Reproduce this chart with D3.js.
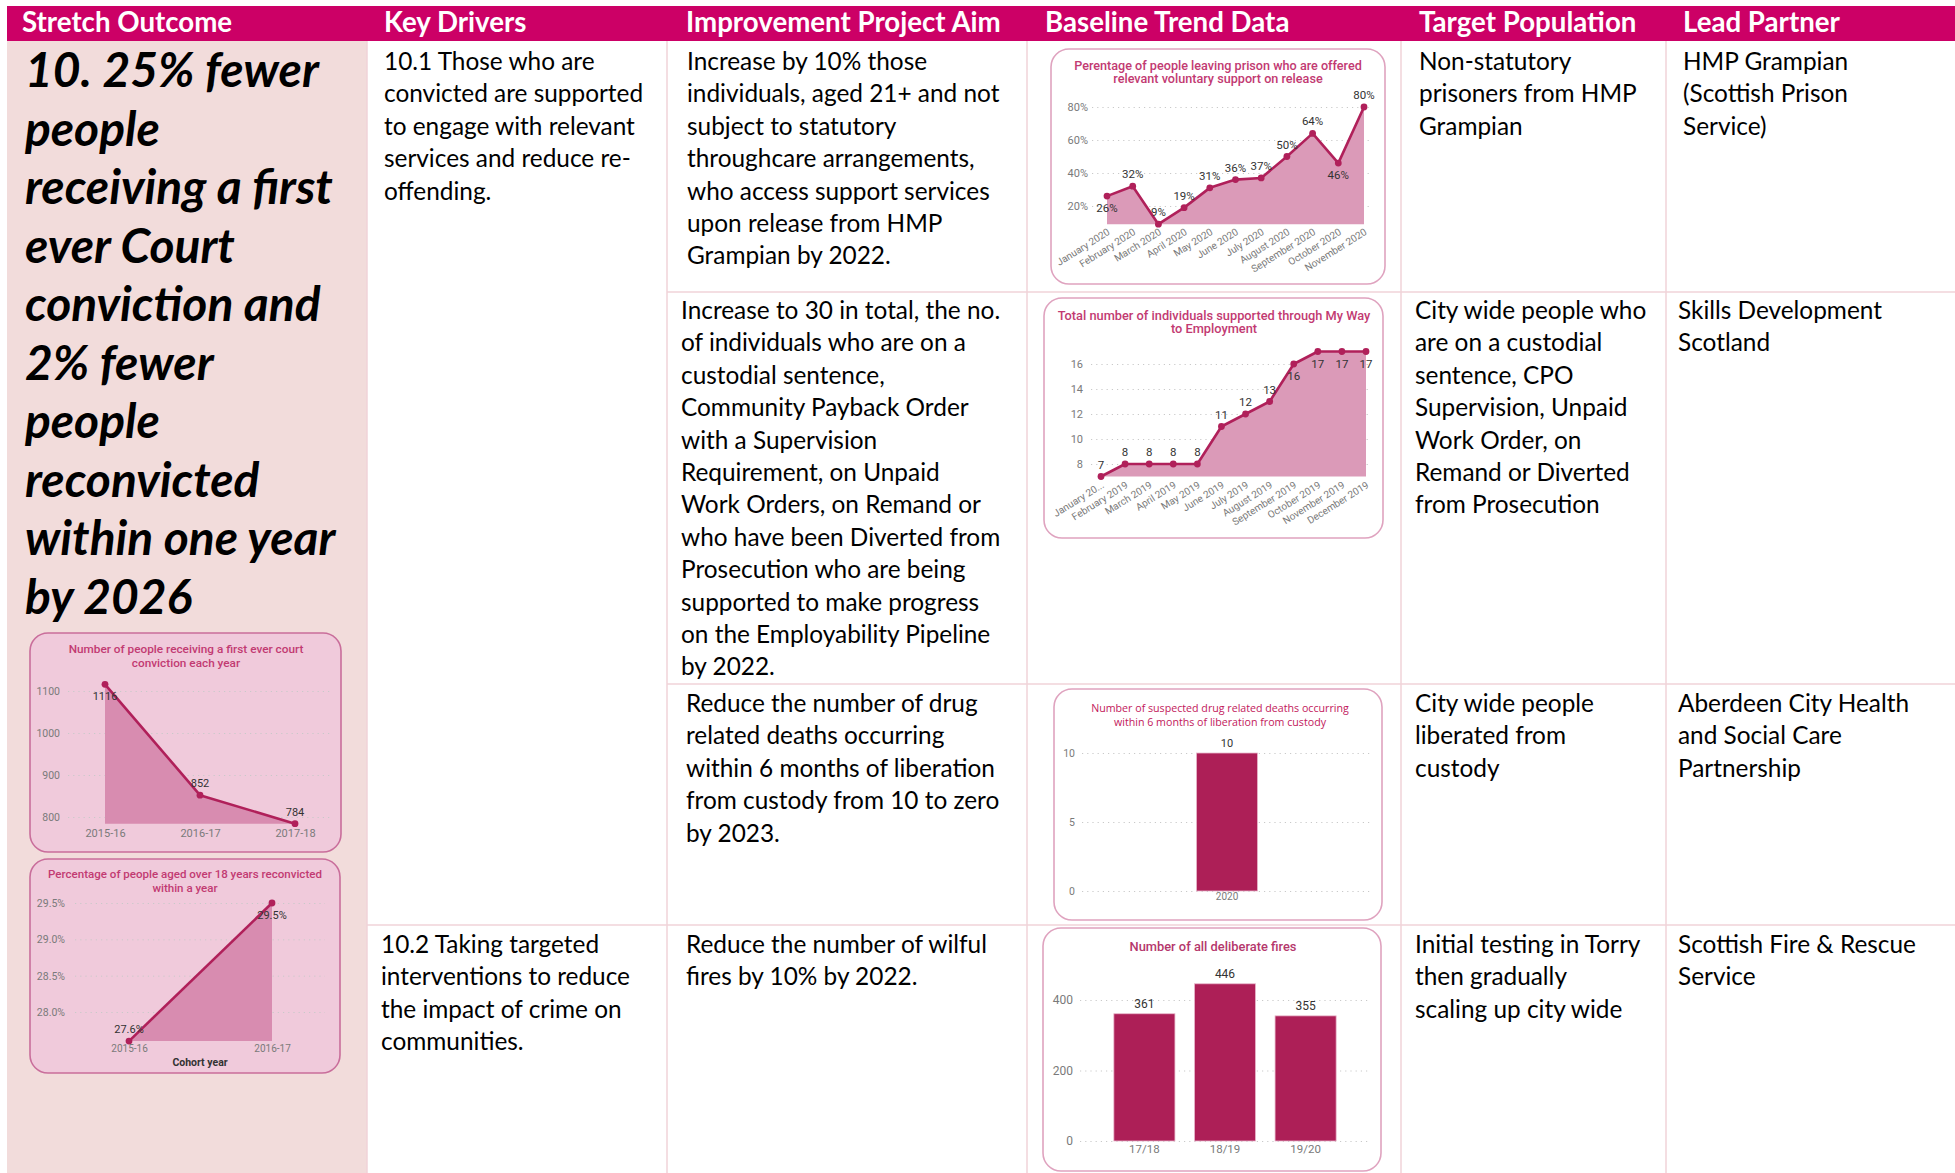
<!DOCTYPE html>
<html>
<head>
<meta charset="utf-8">
<script src="https://cdn.jsdelivr.net/npm/d3@7"></script>
<style>
  body { margin: 0; background: #fff; }
  svg { display: block; }
</style>
</head>
<body>
<svg id="chart"></svg>
<script>
const W = 1955, H = 1173;

// ---- table text ----
const headers = ['Stretch Outcome', 'Key Drivers', 'Improvement Project Aim', 'Baseline Trend Data', 'Target Population', 'Lead Partner'];

const outcomeLines = ['10. 25% fewer', 'people', 'receiving a first', 'ever Court', 'conviction and',
  '2% fewer', 'people', 'reconvicted', 'within one year', 'by 2026'];

const driverLines = [
  ['10.1 Those who are', 'convicted are supported', 'to engage with relevant', 'services and reduce re-', 'offending.'],
  ['10.2 Taking targeted', 'interventions to reduce', 'the impact of crime on', 'communities.']
];

const aimLines = [
  ['Increase by 10% those', 'individuals, aged 21+ and not', 'subject to statutory', 'throughcare arrangements,',
   'who access support services', 'upon release from HMP', 'Grampian by 2022.'],
  ['Increase to 30 in total, the no.', 'of individuals who are on a', 'custodial sentence,', 'Community Payback Order',
   'with a Supervision', 'Requirement, on Unpaid', 'Work Orders, on Remand or', 'who have been Diverted from',
   'Prosecution who are being', 'supported to make progress', 'on the Employability Pipeline', 'by 2022.'],
  ['Reduce the number of drug', 'related deaths occurring', 'within 6 months of liberation', 'from custody from 10 to zero', 'by 2023.'],
  ['Reduce the number of wilful', 'fires by 10% by 2022.']
];

const targetLines = [
  ['Non-statutory', 'prisoners from HMP', 'Grampian'],
  ['City wide people who', 'are on a custodial', 'sentence, CPO', 'Supervision, Unpaid', 'Work Order, on', 'Remand or Diverted', 'from Prosecution'],
  ['City wide people', 'liberated from', 'custody'],
  ['Initial testing in Torry', 'then gradually', 'scaling up city wide']
];

const partnerLines = [
  ['HMP Grampian', '(Scottish Prison', 'Service)'],
  ['Skills Development', 'Scotland'],
  ['Aberdeen City Health', 'and Social Care', 'Partnership'],
  ['Scottish Fire & Rescue', 'Service']
];

// ---- chart data ----
const prisonMonths = ['January 2020', 'February 2020', 'March 2020', 'April 2020', 'May 2020', 'June 2020',
  'July 2020', 'August 2020', 'September 2020', 'October 2020', 'November 2020'];
const prisonPct = [26, 32, 9, 19, 31, 36, 37, 50, 64, 46, 80];
const prisonTicks = [20, 40, 60, 80];

const myWayMonths = ['January 20...', 'February 2019', 'March 2019', 'April 2019', 'May 2019', 'June 2019',
  'July 2019', 'August 2019', 'September 2019', 'October 2019', 'November 2019', 'December 2019'];
const myWayCounts = [7, 8, 8, 8, 8, 11, 12, 13, 16, 17, 17, 17];
const myWayTicks = [8, 10, 12, 14, 16];

const drugYears = ['2020'];
const drugDeaths = [10];
const drugTicks = [0, 5, 10];

const fireYears = ['17/18', '18/19', '19/20'];
const fireCounts = [361, 446, 355];
const fireTicks = [0, 200, 400];

const courtYears = ['2015-16', '2016-17', '2017-18'];
const courtCounts = [1116, 852, 784];
const courtTicks = [800, 900, 1000, 1100];

const reconYears = ['2015-16', '2016-17'];
const reconPct = [27.6, 29.5];
const reconTicks = [28.0, 28.5, 29.0, 29.5];

// ---- layout ----
const FONT = 'Lato, "Open Sans", sans-serif';
const DIN = 'Roboto, "Open Sans", sans-serif';
const colX = [7, 367, 667, 1027, 1401, 1666, W];
const rowY = [41, 292, 684, 925, H];
const headX = [22, 384, 686, 1045, 1419, 1683];
const lineColor = '#F0D3D8';

const svg = d3.select('#chart').attr('width', W).attr('height', H);

function measure(text, family, weight, style) {
  const t = svg.append('text').attr('font-family', family).attr('font-size', 100)
    .attr('font-weight', weight || 'normal').attr('font-style', style || 'normal').text(text);
  const w = t.node().getComputedTextLength();
  t.remove();
  return w;
}
function fitSize(text, target, family, weight, style) {
  return 100 * target / measure(text, family, weight, style);
}

// background + header
svg.append('rect').attr('x', colX[0]).attr('y', rowY[0]).attr('width', colX[1] - colX[0]).attr('height', H - rowY[0])
  .attr('fill', '#F2DCDB');
svg.append('rect').attr('x', colX[0]).attr('y', 6).attr('width', W - colX[0]).attr('height', 35).attr('fill', '#CC0066');

const headSize = fitSize('Improvement Project Aim', 315, FONT, 'bold');
svg.selectAll('.head').data(headers).join('text')
  .attr('class', 'head')
  .attr('x', (d, i) => headX[i]).attr('y', 32)
  .attr('font-family', FONT).attr('font-weight', 'bold').attr('font-size', headSize)
  .attr('fill', '#fff').text(d => d);

// grid lines
const grid = svg.append('g').attr('stroke', lineColor).attr('stroke-width', 1.5);
[colX[1], colX[2], colX[3], colX[4], colX[5]].forEach(x =>
  grid.append('line').attr('x1', x).attr('x2', x).attr('y1', rowY[0]).attr('y2', H));
[rowY[1], rowY[2]].forEach(y =>
  grid.append('line').attr('x1', colX[2]).attr('x2', W).attr('y1', y).attr('y2', y));
grid.append('line').attr('x1', colX[1]).attr('x2', W).attr('y1', rowY[3]).attr('y2', rowY[3]);

// body text
const bodySize = fitSize('who access support services', 303, FONT);
const bodyLead = 32.4;
function block(lines, x, y) {
  svg.append('text').attr('font-family', FONT).attr('font-size', bodySize).attr('fill', '#000')
    .selectAll('tspan').data(lines).join('tspan')
    .attr('x', x).attr('y', (d, i) => y + i * bodyLead).text(d => d);
}
block(driverLines[0], 384, 70);
block(driverLines[1], 381, 953);
const rowBase = [70, 319, 712, 953];
const aimX = [687, 681, 686, 686];
aimLines.forEach((l, i) => block(l, aimX[i], rowBase[i]));
const targetX = [1419, 1415, 1415, 1415];
targetLines.forEach((l, i) => block(l, targetX[i], rowBase[i]));
const partnerX = [1683, 1678, 1678, 1678];
partnerLines.forEach((l, i) => block(l, partnerX[i], rowBase[i]));

// big outcome statement
const outSize = fitSize('receiving a first', 308, FONT, 'bold', 'italic');
svg.append('text').attr('font-family', FONT).attr('font-size', outSize).attr('font-weight', 'bold')
  .attr('font-style', 'italic').attr('fill', '#000')
  .selectAll('tspan').data(outcomeLines).join('tspan')
  .attr('x', 25).attr('y', (d, i) => 87 + i * 58.5).text(d => d);

// ---- mini charts ----
function frame(g, c) {
  g.append('rect').attr('x', c.box[0]).attr('y', c.box[1])
    .attr('width', c.box[2] - c.box[0]).attr('height', c.box[3] - c.box[1])
    .attr('rx', 18).attr('fill', c.bg).attr('stroke', c.border).attr('stroke-width', 1.6);
  const fam = c.titleFont || DIN;
  const wt = c.titleWeight || 500;
  const size = fitSize(c.title[0], c.titleW, fam, wt);
  g.append('text').attr('font-family', fam).attr('font-weight', wt).attr('font-size', size)
    .attr('fill', c.titleColor).attr('text-anchor', 'middle')
    .selectAll('tspan').data(c.title).join('tspan')
    .attr('x', c.titleX).attr('y', (d, i) => c.titleY + i * c.titleLead).text(d => d);
}

function yAxes(g, c, y) {
  g.append('g').attr('transform', `translate(${c.grid[0]},0)`)
    .call(d3.axisLeft(y).tickValues(c.ticks).tickSize(-(c.grid[1] - c.grid[0])).tickFormat(''))
    .call(a => a.select('.domain').remove())
    .call(a => a.selectAll('line').attr('stroke', '#c9c9c9').attr('stroke-dasharray', '1.2,4'));
  g.append('g').attr('transform', `translate(${c.tickX},0)`)
    .call(d3.axisLeft(y).tickValues(c.ticks).tickSize(0).tickPadding(0).tickFormat(c.fmt))
    .call(a => a.select('.domain').remove())
    .call(a => a.selectAll('text').attr('font-family', DIN).attr('font-size', c.tickFont).attr('fill', '#7a7a7a'));
}

function xAxis(g, c, x) {
  const ax = g.append('g').attr('transform', `translate(0,${c.xLabelY})`)
    .call(d3.axisBottom(x).tickSize(0).tickPadding(0))
    .call(a => a.select('.domain').remove());
  const t = ax.selectAll('text').attr('font-family', DIN).attr('font-size', c.xFont).attr('fill', '#7a7a7a');
  if (c.rotate) {
    t.attr('text-anchor', 'end').attr('y', 0).attr('dy', '0.75em').attr('dx', '-0.1em')
      .attr('transform', `rotate(${c.rotate})`);
  }
}

function lineChart(c) {
  const g = svg.append('g');
  frame(g, c);
  const x = d3.scalePoint().domain(c.cats).range(c.xRange);
  const y = d3.scaleLinear().domain([c.ticks[0], c.ticks[c.ticks.length - 1]]).range(c.tickPos);
  yAxes(g, c, y);
  const rows = c.cats.map((k, i) => ({ k, v: c.vals[i], side: c.sides[i] }));
  const base = y(d3.min(c.vals));
  g.append('path').datum(rows)
    .attr('d', d3.area().x(d => x(d.k)).y0(base).y1(d => y(d.v)))
    .attr('fill', c.areaColor);
  g.append('path').datum(rows)
    .attr('d', d3.line().x(d => x(d.k)).y(d => y(d.v)))
    .attr('fill', 'none').attr('stroke', '#B0205A').attr('stroke-width', 2.6).attr('stroke-linejoin', 'round');
  g.selectAll('.dot').data(rows).join('circle')
    .attr('cx', d => x(d.k)).attr('cy', d => y(d.v)).attr('r', 3.4).attr('fill', '#B0205A');
  g.selectAll('.lbl').data(rows).join('text')
    .attr('x', d => x(d.k)).attr('y', d => y(d.v) + (d.side === 'b' ? 16 : -8))
    .attr('text-anchor', 'middle').attr('font-family', DIN).attr('font-size', c.labelFont)
    .attr('fill', '#333').text(d => c.labelFmt(d.v));
  xAxis(g, c, x);
  if (c.xTitle) {
    g.append('text').attr('x', c.xTitle[1]).attr('y', c.xTitle[2]).attr('text-anchor', 'middle')
      .attr('font-family', DIN).attr('font-weight', 'bold').attr('font-size', 10.5).attr('fill', '#333')
      .text(c.xTitle[0]);
  }
}

function barChart(c) {
  const g = svg.append('g');
  frame(g, c);
  const x = d3.scaleBand().domain(c.cats).range(c.grid).paddingInner(0.242).paddingOuter(c.outer);
  const y = d3.scaleLinear().domain([c.ticks[0], c.ticks[c.ticks.length - 1]]).range(c.tickPos);
  yAxes(g, c, y);
  const rows = c.cats.map((k, i) => ({ k, v: c.vals[i] }));
  g.selectAll('.bar').data(rows).join('rect')
    .attr('x', d => x(d.k)).attr('width', x.bandwidth())
    .attr('y', d => y(d.v)).attr('height', d => y(0) - y(d.v))
    .attr('fill', '#AD1F57').attr('stroke', '#E9B9CC').attr('stroke-width', 0.8);
  g.selectAll('.lbl').data(rows).join('text')
    .attr('x', d => x(d.k) + x.bandwidth() / 2).attr('y', d => y(d.v) - 6)
    .attr('text-anchor', 'middle').attr('font-family', DIN).attr('font-size', c.labelFont)
    .attr('fill', '#333').text(d => d.v);
  xAxis(g, c, x);
}

lineChart({
  box: [1051, 49, 1385, 284], bg: '#fff', border: '#DFA3BF', areaColor: '#DB9AB8',
  title: ['Perentage of people leaving prison who are offered', 'relevant voluntary support on release'],
  titleX: 1218, titleY: 70, titleLead: 13, titleW: 288, titleColor: '#C23A72',
  cats: prisonMonths, vals: prisonPct, ticks: prisonTicks, tickPos: [206, 107], fmt: d => d + '%',
  xRange: [1107, 1364], grid: [1092, 1372], tickX: 1088, tickFont: 11,
  xLabelY: 227, rotate: -32, xFont: 10,
  sides: 'baaaaaaaaba', labelFmt: d => d + '%', labelFont: 11.5
});

lineChart({
  box: [1044, 298, 1383, 538], bg: '#fff', border: '#DFA3BF', areaColor: '#DB9AB8',
  title: ['Total number of individuals supported through My Way', 'to Employment'],
  titleX: 1214, titleY: 320, titleLead: 13, titleW: 313, titleColor: '#C23A72',
  cats: myWayMonths, vals: myWayCounts, ticks: myWayTicks, tickPos: [464, 364], fmt: d => d,
  xRange: [1101, 1366], grid: [1091, 1368], tickX: 1083, tickFont: 11,
  xLabelY: 480, rotate: -32, xFont: 10,
  sides: 'aaaaaaaabbbb', labelFmt: d => d, labelFont: 11.5
});

barChart({
  box: [1054, 689, 1382, 920], bg: '#fff', border: '#DFA3BF',
  title: ['Number of suspected drug related deaths occurring', 'within 6 months of liberation from custody'],
  titleX: 1220, titleY: 712, titleLead: 14, titleW: 258, titleColor: '#C2185B',
  titleFont: '"Open Sans", sans-serif', titleWeight: 'normal',
  cats: drugYears, vals: drugDeaths, ticks: drugTicks, tickPos: [891, 753], fmt: d => d,
  grid: [1082, 1372], outer: 1.42, tickX: 1075, tickFont: 10.5,
  xLabelY: 893, xFont: 10, labelFont: 11
});

barChart({
  box: [1043, 928, 1381, 1171], bg: '#fff', border: '#DFA3BF',
  title: ['Number of all deliberate fires'],
  titleX: 1213, titleY: 951, titleLead: 14, titleW: 167, titleColor: '#B5376C',
  cats: fireYears, vals: fireCounts, ticks: fireTicks, tickPos: [1141, 1000], fmt: d => d,
  grid: [1080, 1370], outer: 0.42, tickX: 1073, tickFont: 12,
  xLabelY: 1145, xFont: 11.5, labelFont: 12
});

lineChart({
  box: [30, 633, 341, 852], bg: '#F0CADB', border: '#C96E9B', areaColor: '#D88CB0',
  title: ['Number of people receiving a first ever court', 'conviction each year'],
  titleX: 186, titleY: 653, titleLead: 14, titleW: 235, titleColor: '#C23A72',
  cats: courtYears, vals: courtCounts, ticks: courtTicks, tickPos: [817, 691], fmt: d => d,
  xRange: [105, 295], grid: [68, 332], tickX: 60, tickFont: 10.5,
  xLabelY: 829, xFont: 11,
  sides: 'baa', labelFmt: d => d, labelFont: 11
});

lineChart({
  box: [30, 859, 340, 1073], bg: '#F0CADB', border: '#C96E9B', areaColor: '#D88CB0',
  title: ['Percentage of people aged over 18 years reconvicted', 'within a year'],
  titleX: 185, titleY: 878, titleLead: 14, titleW: 274, titleColor: '#C23A72',
  cats: reconYears, vals: reconPct, ticks: reconTicks, tickPos: [1012, 903], fmt: d => d.toFixed(1) + '%',
  xRange: [129, 272], grid: [75, 325], tickX: 65, tickFont: 10.5,
  xLabelY: 1045, xFont: 10,
  sides: 'ab', labelFmt: d => d.toFixed(1) + '%', labelFont: 11,
  xTitle: ['Cohort year', 200, 1066]
});
</script>
</body>
</html>
